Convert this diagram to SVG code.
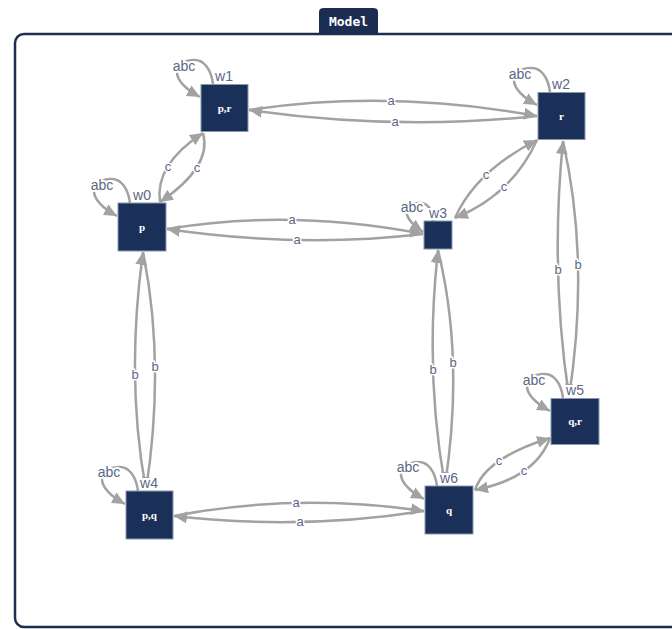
<svg xmlns="http://www.w3.org/2000/svg" width="672" height="629" viewBox="0 0 672 629">
<style>
.frame{fill:#fff;stroke:#1d2e4e;stroke-width:2.5}
.tab{fill:#1b2d50}
.tabt{font-family:"DejaVu Sans Mono","Liberation Mono",monospace;font-size:13px;fill:#fff;font-weight:bold}
.nd{fill:#1b3058;stroke:#8a98ae;stroke-width:1}
.nl{font-family:"Liberation Serif",serif;font-weight:bold;font-size:11px;fill:#fff;text-anchor:middle}
.wl{font-family:"Liberation Sans",Arial,sans-serif;font-size:14px;fill:#5a6886;text-anchor:middle;paint-order:stroke;stroke:#fff;stroke-width:4}
.el{font-family:"Liberation Sans",Arial,sans-serif;font-size:13px;fill:#5a6886;text-anchor:middle;paint-order:stroke;stroke:#fff;stroke-width:3}
.e{fill:none;stroke:#a2a2a2;stroke-width:2.5;marker-end:url(#ah)}
</style>
<defs>
<marker id="ah" markerUnits="userSpaceOnUse" markerWidth="14" markerHeight="12" refX="13" refY="6" orient="auto">
<path d="M0,0 L13,6 L0,12 z" fill="#a2a2a2"/>
</marker>
<path id="loop" d="M12,0 C10,-16 2,-24 -6,-24 C-30,-24 -32,-4 -1,13"/>
</defs>
<rect class="frame" x="15" y="34" width="700" height="593" rx="9"/>
<path class="tab" d="M319,34 V12 Q319,8 324,8 H373 Q378,8 378,12 V34 z"/>
<text class="tabt" x="348.5" y="26" text-anchor="middle">Model</text>

<g id="connectors">
<path class="e" d="M249,110 Q389,89 537,116"/>
<path class="e" d="M537,116 Q397,131 249,110"/>
<path class="e" d="M167,229 Q289,208.5 423,234"/>
<path class="e" d="M423,234 Q299,248.5 167,229"/>
<path class="e" d="M174,516 Q293,492.5 424,511"/>
<path class="e" d="M424,511 Q301,530.5 174,516"/>
<path class="e" d="M160,202 Q154.5,164.5 203,133"/>
<path class="e" d="M203,133 Q212.5,166.5 160,202"/>
<path class="e" d="M455,218 Q476,171 537,140"/>
<path class="e" d="M537,140 Q512,195 455,218"/>
<path class="e" d="M475,490 Q485.5,458 550,438"/>
<path class="e" d="M550,438 Q535.5,478 475,490"/>
<path class="e" d="M143,252 Q165.5,363 146,490"/>
<path class="e" d="M146,490 Q125.5,379 143,252"/>
<path class="e" d="M438,250 Q464.5,358.5 445,485"/>
<path class="e" d="M445,485 Q424.5,372.5 438,250"/>
<path class="e" d="M563,141 Q590,261 569,397"/>
<path class="e" d="M569,397 Q550,271 563,141"/>
<use href="#loop" class="e" transform="translate(201,84)"/>
<use href="#loop" class="e" transform="translate(118,203)"/>
<use href="#loop" class="e" transform="translate(538,92)"/>
<use href="#loop" class="e" transform="translate(126,491)"/>
<use href="#loop" class="e" transform="translate(425,486)"/>
<use href="#loop" class="e" transform="translate(551,398)"/>
<path class="e" d="M433,221 C432,209 427,203 420,203 C402,203 401,217 423,232"/>
<text class="el" x="391" y="105">a</text>
<text class="el" x="395" y="126">a</text>
<text class="el" x="292" y="224">a</text>
<text class="el" x="297" y="244">a</text>
<text class="el" x="296" y="507">a</text>
<text class="el" x="300" y="526">a</text>
<text class="el" x="168" y="171">c</text>
<text class="el" x="197" y="172">c</text>
<text class="el" x="486" y="179">c</text>
<text class="el" x="504" y="191">c</text>
<text class="el" x="499" y="465">c</text>
<text class="el" x="524" y="475">c</text>
<text class="el" x="135" y="379">b</text>
<text class="el" x="155" y="371">b</text>
<text class="el" x="433" y="374">b</text>
<text class="el" x="453" y="367">b</text>
<text class="el" x="558" y="274">b</text>
<text class="el" x="578" y="269">b</text>
</g>

<g id="w1">
<rect class="nd" x="201" y="84.5" width="47" height="47"/>
<text class="nl" x="224.5" y="112">p,r</text>
<text class="wl" x="184" y="71">abc</text>
<text class="wl" x="224" y="81">w1</text>
</g>
<g id="w0">
<rect class="nd" x="118" y="203" width="48" height="48"/>
<text class="nl" x="142" y="231">p</text>
<text class="wl" x="102" y="190">abc</text>
<text class="wl" x="142" y="200">w0</text>
</g>
<g id="w2">
<rect class="nd" x="538" y="92.5" width="47" height="47"/>
<text class="nl" x="561.5" y="120">r</text>
<text class="wl" x="520" y="79">abc</text>
<text class="wl" x="561" y="89">w2</text>
</g>
<g id="w3">
<rect class="nd" x="424" y="221" width="28" height="28"/>
<text class="wl" x="412" y="212">abc</text>
<text class="wl" x="438" y="218">w3</text>
</g>
<g id="w4">
<rect class="nd" x="126" y="491" width="47" height="48"/>
<text class="nl" x="149.5" y="519">p,q</text>
<text class="wl" x="109" y="477">abc</text>
<text class="wl" x="149" y="488">w4</text>
</g>
<g id="w6">
<rect class="nd" x="425" y="486" width="48" height="48"/>
<text class="nl" x="449" y="514">q</text>
<text class="wl" x="408" y="472">abc</text>
<text class="wl" x="449" y="483">w6</text>
</g>
<g id="w5">
<rect class="nd" x="551" y="398.5" width="48" height="46"/>
<text class="nl" x="575" y="425">q,r</text>
<text class="wl" x="534" y="385">abc</text>
<text class="wl" x="575" y="395">w5</text>
</g>
</svg>
